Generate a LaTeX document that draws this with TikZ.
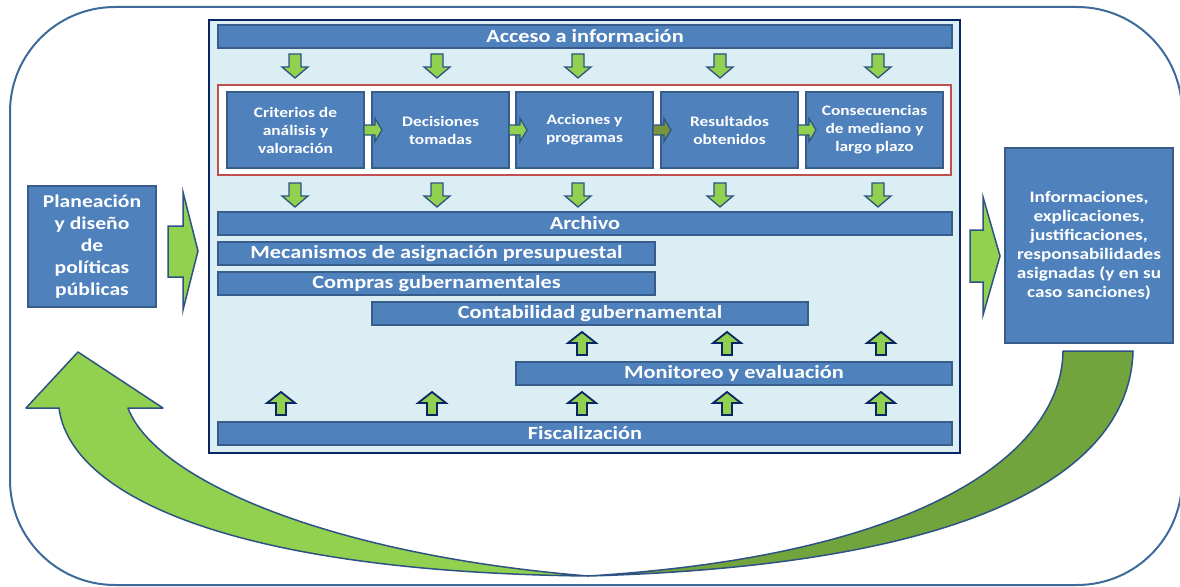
\documentclass[tikz,border=0pt]{standalone}
\usepackage{fontspec}
\newfontfamily\lblfont[FakeStretch=1.2]{Carlito}

\definecolor{barfill}{HTML}{4F81BD}
\definecolor{barline}{HTML}{385D8A}
\definecolor{panelfill}{HTML}{DBEEF4}
\definecolor{panelline}{HTML}{0B2463}
\definecolor{stepframe}{HTML}{C0504D}
\definecolor{outerline}{HTML}{3E6A9A}
\definecolor{lgreen}{HTML}{92D050}
\definecolor{dgreen}{HTML}{77933C}
\definecolor{cgreen}{HTML}{72A43E}
\definecolor{arrline}{HTML}{2E5283}

\begin{document}
\begin{tikzpicture}[x=1pt,y=-1pt,
  every node/.style={inner sep=0pt,outer sep=0pt},
  hbar/.style={draw=barline,fill=barfill,line width=1.5pt,minimum height=23pt,
    anchor=north west,text=white,font=\lblfont\bfseries\fontsize{18.6}{22}\selectfont},
  stepbox/.style={draw=barline,fill=barfill,line width=1.5pt,minimum width=137pt,
    minimum height=76pt,anchor=north west,text=white,align=center,
    font=\lblfont\bfseries\fontsize{14.5}{18}\selectfont},
  sidebox/.style={draw=barline,fill=barfill,line width=2pt,anchor=north west,
    text=white,align=center},
  blockarrow/.style={draw=arrline,line width=1.5pt,line join=miter,fill=lgreen},
  downarr/.pic={\draw[blockarrow,line width=1.3pt]
    (-6,0) -- (6,0) -- (6,13) -- (13,13) -- (0,24) -- (-13,13) -- (-6,13) -- cycle;},
  uparr/.pic={\draw[blockarrow,draw=panelline,line width=1.8pt]
    (0,0) -- (14,11) -- (5,11) -- (5,23) -- (-5,23) -- (-5,11) -- (-14,11) -- cycle;},
  rightarr/.pic={\draw[blockarrow,line width=1.2pt,fill=#1]
    (0,-5) -- (11,-5) -- (11,-11.5) -- (18,0) -- (11,11.5) -- (11,5) -- (0,5) -- cycle;},
  rightarr/.default=lgreen
]
\useasboundingbox (0,0) rectangle (1180,586);

% outer feedback frame
\draw[outerline,line width=2pt,rounded corners=105pt] (10,7) rectangle (1182,585);

% central panel
\node[draw=panelline,fill=panelfill,line width=2.5pt,anchor=north west,
  minimum width=751pt,minimum height=433pt] (panel) at (209,20) {};

\node[hbar,minimum width=734pt] (acceso) at (218,25) {Acceso a información};

% process chain inside the red frame
\node[draw=stepframe,fill=white,line width=2pt,anchor=north west,
  minimum width=733pt,minimum height=90pt] (chain) at (218,85) {};
\node[stepbox] (s1) at (227,92) {Criterios de\\análisis y\\valoración};
\node[stepbox] (s2) at (372,92) {Decisiones\\tomadas};
\node[stepbox] (s3) at (516,92) {Acciones y\\programas};
\node[stepbox] (s4) at (661,92) {Resultados\\obtenidos};
\node[stepbox] (s5) at (806,92) {Consecuencias\\de mediano y\\largo plazo};
\pic at (s1.east) {rightarr};
\pic at (s2.east) {rightarr};
\pic at (s3.east) {rightarr=dgreen};
\pic at (s4.east) {rightarr};

% arrows from "Acceso" and towards "Archivo"
\foreach \cx in {295,437,578,720,878}{
  \pic at (\cx,54) {downarr};
  \pic at (\cx,183) {downarr};
}

\node[hbar,minimum width=734pt] (archivo) at (218,212) {Archivo};
\node[hbar,minimum width=437pt] (mecanismos) at (218,242) {Mecanismos de asignación presupuestal};
\node[hbar,minimum width=437pt] (compras) at (218,272) {Compras gubernamentales};
\node[hbar,minimum width=436pt] (contab) at (372,302) {Contabilidad gubernamental};
\node[hbar,minimum width=436pt] (monitoreo) at (516,362) {Monitoreo y evaluación};
\node[hbar,minimum width=734pt] (fiscal) at (218,422) {Fiscalización};

\foreach \cx in {582,727,881}{
  \pic at (\cx,332) {uparr};
}
\foreach \cx in {281,432,582,727,881}{
  \pic at (\cx,392) {uparr};
}

% side boxes
\node[sidebox,minimum width=128pt,minimum height=121pt,
  font=\lblfont\bfseries\fontsize{18}{22}\selectfont] (plan) at (28,186)
  {Planeación\\y diseño\\de\\políticas\\públicas};
\node[sidebox,minimum width=168pt,minimum height=195pt,
  font=\lblfont\bfseries\fontsize{16}{19}\selectfont] (result) at (1005,148)
  {Informaciones,\\explicaciones,\\justificaciones,\\responsabilidades\\asignadas (y en su\\caso sanciones)};

% big block arrows into and out of the panel
\draw[blockarrow] (168,226) -- (183,226) -- (183,192) -- (198,251) -- (183,310)
  -- (183,277) -- (168,277) -- cycle;
\draw[blockarrow] (970,230) -- (983,230) -- (983,197) -- (1000,256) -- (983,315)
  -- (983,282) -- (970,282) -- cycle;

% curved return arrow
\coordinate (neck) at (588,576);
\draw[blockarrow,fill=cgreen,line join=round] (1063,351) -- (1133,351)
  .. controls (1130,470) and (980,565) .. (neck)
  .. controls (930,555) and (1062,450) .. (1063,351) -- cycle;
\draw[blockarrow,line join=round] (neck)
  .. controls (330,555) and (155,480) .. (128,408)
  -- (163,408) -- (78,352) -- (26,408) -- (59,408)
  .. controls (70,495) and (230,572) .. (neck) -- cycle;
\end{tikzpicture}
\end{document}
